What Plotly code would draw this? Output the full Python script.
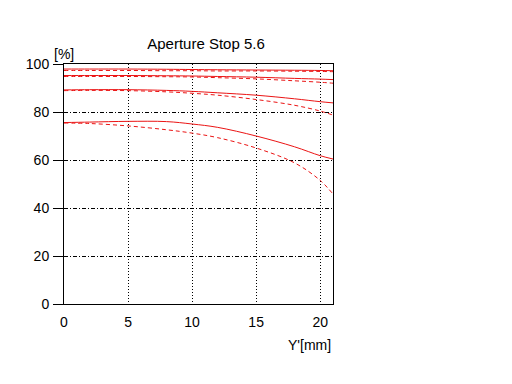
import plotly.graph_objects as go

# Image height Y' [mm]
x_pts = [0, 2, 5, 8, 10, 12, 15, 18, 20, 21]

# MTF values [%]
s1_solid = [97.9, 97.9, 97.9, 97.8, 97.7, 97.6, 97.5, 97.4, 97.3, 97.2]
s1_dash  = [97.3, 97.3, 97.3, 97.2, 97.2, 97.1, 97.1, 97.0, 96.9, 96.8]
s2_solid = [95.2, 95.2, 95.2, 95.1, 95.0, 94.8, 94.5, 94.0, 93.7, 93.5]
s2_dash  = [94.8, 94.8, 94.8, 94.7, 94.6, 94.3, 93.8, 93.0, 92.4, 92.0]
s3_solid = [89.2, 89.3, 89.3, 89.0, 88.6, 88.0, 87.0, 85.5, 84.3, 83.8]
s3_dash  = [88.9, 89.0, 88.9, 88.4, 87.8, 87.0, 85.2, 82.8, 80.4, 78.7]
s4_solid = [75.6, 75.8, 76.1, 76.0, 75.0, 73.6, 70.0, 65.5, 61.8, 60.4]
s4_dash  = [75.4, 75.2, 74.2, 72.6, 71.2, 69.3, 65.0, 58.8, 51.5, 45.8]

series = [
    (s1_solid, "solid"), (s1_dash, "dash"),
    (s2_solid, "solid"), (s2_dash, "dash"),
    (s3_solid, "solid"), (s3_dash, "dash"),
    (s4_solid, "solid"), (s4_dash, "dash"),
]

x_ticks = [0, 5, 10, 15, 20]
y_ticks = [0, 20, 40, 60, 80, 100]

RED = "rgb(235,20,20)"
FONT = "Liberation Sans"

fig = go.Figure()
for ys, style in series:
    fig.add_trace(go.Scatter(
        x=x_pts, y=ys, mode="lines", line_shape="spline",
        line=dict(color=RED, width=1,
                  dash="solid" if style == "solid" else "4px,3px"),
        showlegend=False, hoverinfo="skip"))

# invisible trace to display y tick labels and ticks on the overlay axis
fig.add_trace(go.Scatter(x=[0], y=[0], yaxis="y2", mode="markers",
                         marker=dict(opacity=0), showlegend=False, hoverinfo="skip"))

fig.update_layout(
    width=512, height=384,
    margin=dict(l=56, r=187, t=56, b=88),
    paper_bgcolor="white", plot_bgcolor="white",
    font=dict(family=FONT, size=14, color="black"),
    title=dict(text="Aperture Stop 5.6", x=198 / 512, xanchor="center",
               y=1 - 36 / 384, yanchor="middle", font=dict(size=15)),
    xaxis=dict(range=[0, 21], tickvals=x_ticks, showgrid=True,
               gridcolor="black", griddash="1px,2px", gridwidth=1,
               showline=True, linecolor="black", linewidth=1, mirror=True,
               ticks="", zeroline=False, ticklabelstandoff=5),
    yaxis=dict(range=[0, 100], tickvals=[20, 40, 60, 80], showgrid=True,
               gridcolor="black", griddash="4px,2px,1px,2px", gridwidth=1,
               showline=True, linecolor="black", linewidth=1, mirror=True,
               zeroline=False, showticklabels=False),
    yaxis2=dict(range=[0, 100], tickvals=y_ticks, overlaying="y",
                showgrid=False, ticks="outside", ticklen=10, tickcolor="black",
                zeroline=False, showline=False, anchor="x", side="left",
                ticklabelstandoff=1),
)

fig.add_annotation(text="[%]", xref="paper", yref="paper", x=0,
                   y=1.0, xanchor="center", yanchor="bottom", showarrow=False,
                   font=dict(size=14), xshift=0, yshift=0)
fig.add_annotation(text="Y'[mm]", xref="paper", yref="paper", x=1.0, y=0,
                   xanchor="right", yanchor="top", showarrow=False,
                   font=dict(size=14), yshift=-31)

fig.write_html("out.html")
